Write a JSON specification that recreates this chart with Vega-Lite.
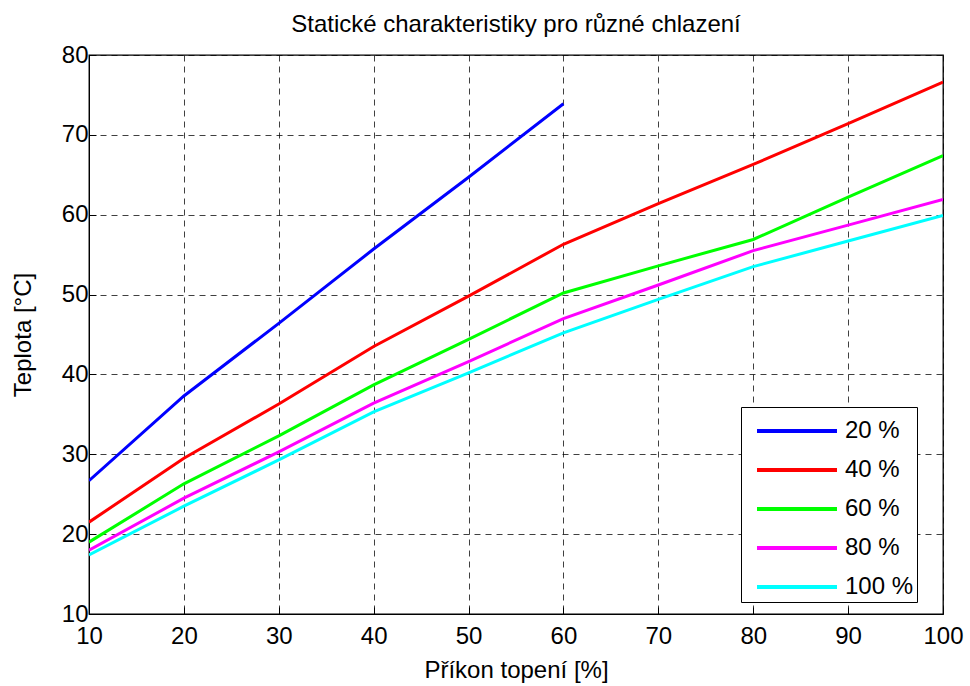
{
  "$schema": "https://vega.github.io/schema/vega-lite/v6.json",
  "width": 854,
  "height": 559,
  "autosize": {"type": "none"},
  "padding": {"left": 89, "top": 55, "right": 27, "bottom": 72},
  "background": "white",
  "title": {"text": "Statické charakteristiky pro různé chlazení", "font": "Liberation Sans", "fontSize": 24, "fontWeight": "normal", "color": "black", "offset": 6, "anchor": "middle"},
  "config": {
    "font": "Liberation Sans",
    "view": {"stroke": "black", "strokeWidth": 1.3},
    "axis": {"labelFont": "Liberation Sans", "labelFontSize": 24, "labelColor": "black", "titleFont": "Liberation Sans", "titleFontSize": 24, "titleFontWeight": "normal", "titleColor": "black", "domainColor": "black", "tickColor": "black", "gridColor": "black", "gridOpacity": 0.75, "gridDash": [6, 5], "gridWidth": 1, "tickSize": -7, "labelFlush": false, "labelOverlap": false, "labelBound": false}
  },
  "data": {"values": [
    {"x": 10, "y": 26.7, "s": "20 %"}, {"x": 20, "y": 37.3, "s": "20 %"}, {"x": 30, "y": 46.4, "s": "20 %"}, {"x": 40, "y": 55.7, "s": "20 %"}, {"x": 50, "y": 64.7, "s": "20 %"}, {"x": 60, "y": 73.9, "s": "20 %"},
    {"x": 10, "y": 21.5, "s": "40 %"}, {"x": 20, "y": 29.5, "s": "40 %"}, {"x": 30, "y": 36.3, "s": "40 %"}, {"x": 40, "y": 43.5, "s": "40 %"}, {"x": 50, "y": 49.8, "s": "40 %"}, {"x": 60, "y": 56.3, "s": "40 %"}, {"x": 70, "y": 61.4, "s": "40 %"}, {"x": 80, "y": 66.3, "s": "40 %"}, {"x": 90, "y": 71.4, "s": "40 %"}, {"x": 100, "y": 76.6, "s": "40 %"},
    {"x": 10, "y": 19.0, "s": "60 %"}, {"x": 20, "y": 26.3, "s": "60 %"}, {"x": 30, "y": 32.3, "s": "60 %"}, {"x": 40, "y": 38.7, "s": "60 %"}, {"x": 50, "y": 44.4, "s": "60 %"}, {"x": 60, "y": 50.2, "s": "60 %"}, {"x": 70, "y": 53.6, "s": "60 %"}, {"x": 80, "y": 56.9, "s": "60 %"}, {"x": 90, "y": 62.2, "s": "60 %"}, {"x": 100, "y": 67.4, "s": "60 %"},
    {"x": 10, "y": 18.0, "s": "80 %"}, {"x": 20, "y": 24.5, "s": "80 %"}, {"x": 30, "y": 30.3, "s": "80 %"}, {"x": 40, "y": 36.4, "s": "80 %"}, {"x": 50, "y": 41.6, "s": "80 %"}, {"x": 60, "y": 47.0, "s": "80 %"}, {"x": 70, "y": 51.2, "s": "80 %"}, {"x": 80, "y": 55.5, "s": "80 %"}, {"x": 90, "y": 58.7, "s": "80 %"}, {"x": 100, "y": 61.9, "s": "80 %"},
    {"x": 10, "y": 17.4, "s": "100 %"}, {"x": 20, "y": 23.5, "s": "100 %"}, {"x": 30, "y": 29.3, "s": "100 %"}, {"x": 40, "y": 35.3, "s": "100 %"}, {"x": 50, "y": 40.2, "s": "100 %"}, {"x": 60, "y": 45.2, "s": "100 %"}, {"x": 70, "y": 49.4, "s": "100 %"}, {"x": 80, "y": 53.5, "s": "100 %"}, {"x": 90, "y": 56.7, "s": "100 %"}, {"x": 100, "y": 59.9, "s": "100 %"}
  ]},
  "mark": {"type": "line", "strokeWidth": 3, "clip": true},
  "encoding": {
    "x": {"field": "x", "type": "quantitative", "scale": {"domain": [10, 100], "nice": false}, "axis": {"values": [10, 20, 30, 40, 50, 60, 70, 80, 90, 100], "title": "Příkon topení [%]", "titlePadding": 10, "labelPadding": 17}},
    "y": {"field": "y", "type": "quantitative", "scale": {"domain": [10, 80], "nice": false, "zero": false}, "axis": {"values": [10, 20, 30, 40, 50, 60, 70, 80], "title": "Teplota [°C]", "titlePadding": 26, "labelPadding": 8}},
    "color": {"field": "s", "type": "nominal", "sort": ["20 %", "40 %", "60 %", "80 %", "100 %"],
      "scale": {"domain": ["20 %", "40 %", "60 %", "80 %", "100 %"], "range": ["#0000ff", "#ff0000", "#00ff00", "#ff00ff", "#00ffff"]},
      "legend": {"title": null, "orient": "none", "legendX": 652, "legendY": 352, "symbolType": "M-2.105,0H2.105", "symbolSize": 1444, "symbolStrokeWidth": 4, "labelFontSize": 24, "labelFont": "Liberation Sans", "labelColor": "black", "fillColor": "white", "strokeColor": "black", "padding": 3, "rowPadding": 6, "labelOffset": 27, "symbolOffset": 32}}
  }
}
